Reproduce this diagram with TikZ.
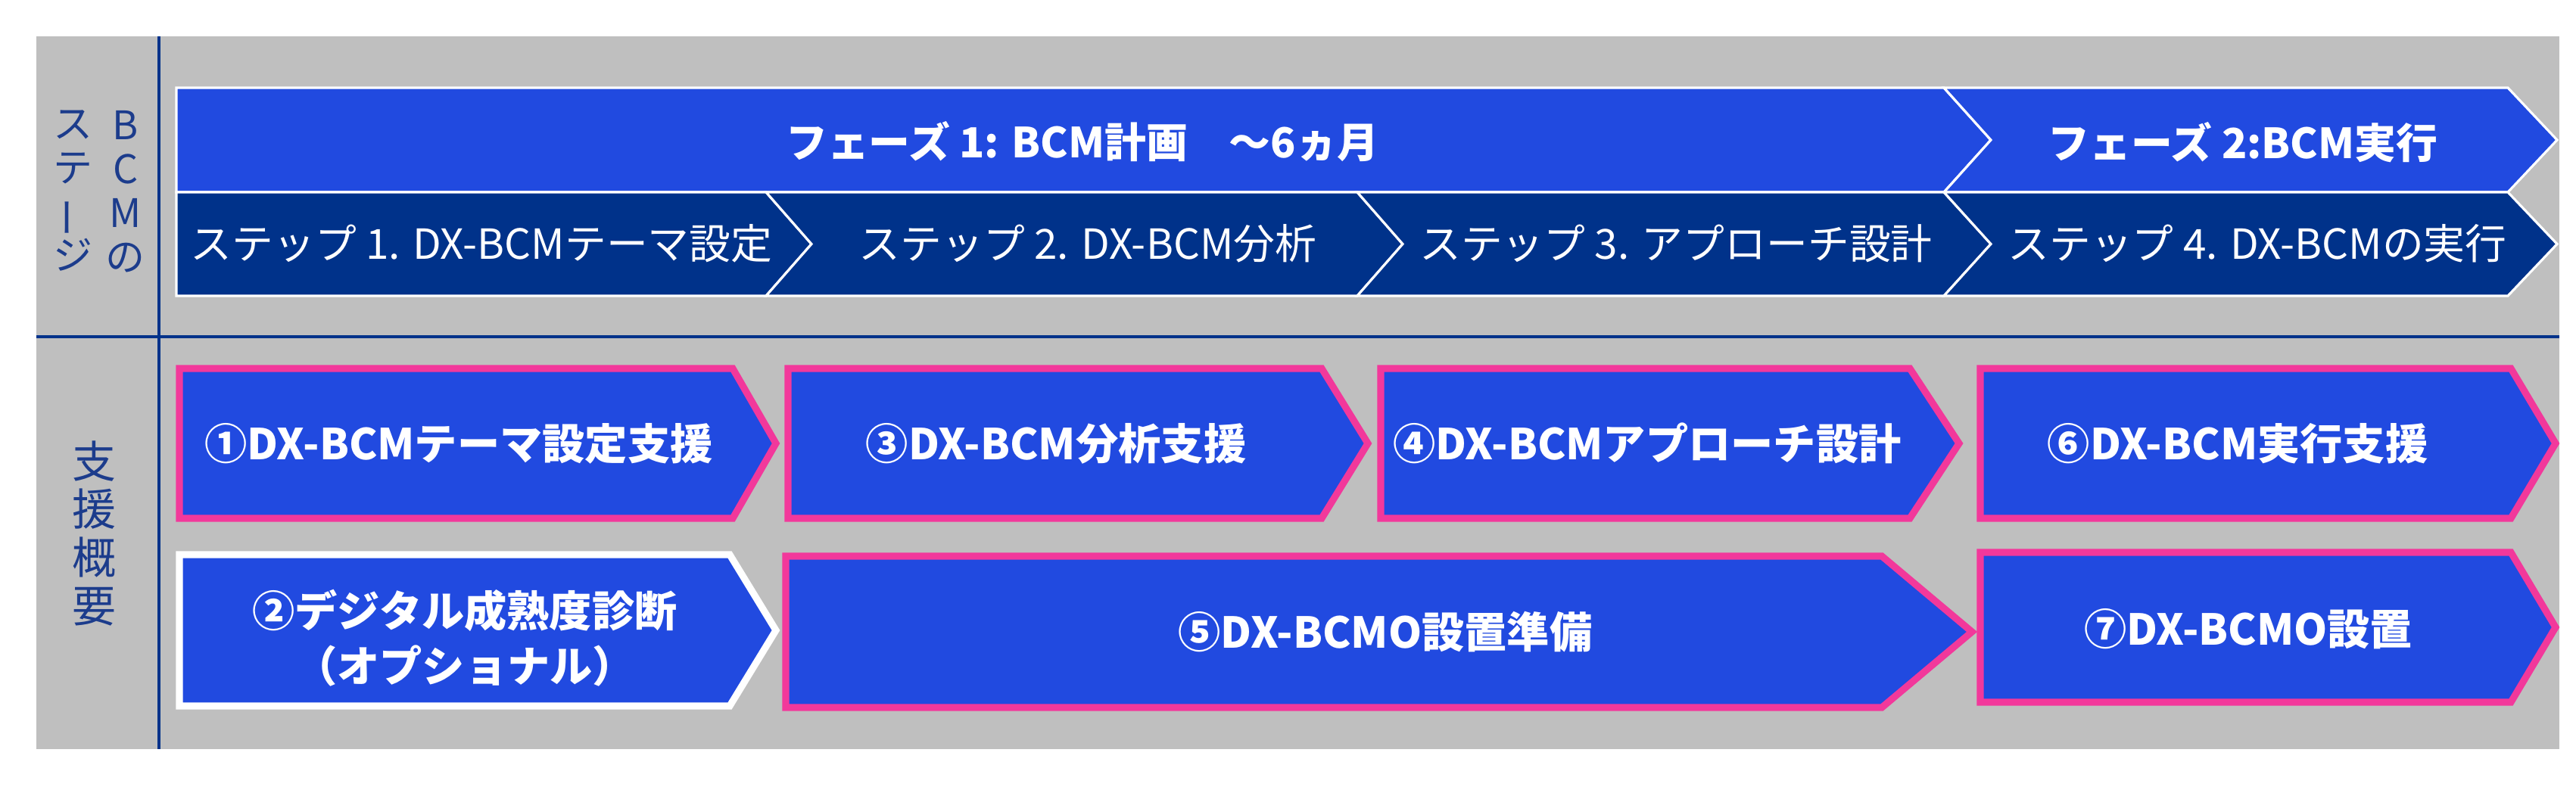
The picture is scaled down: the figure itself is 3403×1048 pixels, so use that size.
\documentclass[tikz,border=0pt]{standalone}
\usepackage{fontspec}
\setmainfont{Noto Sans CJK JP}
\definecolor{bcmgray}{RGB}{191,191,191}
\definecolor{bcmnavy}{RGB}{0,50,138}
\definecolor{bcmblue}{RGB}{33,74,224}
\definecolor{bcmpink}{RGB}{242,56,155}
\definecolor{bcmtext}{RGB}{28,60,140}

% arrow shaped band: style, left x, left notch x, right x, tip x, top y, bottom y
\newcommand{\chevronpath}[7]{%
  \draw[#1] (#2,#6) -- (#4,#6) -- (#5,{(#6+#7)/2}) -- (#4,#7) -- (#2,#7) -- (#3,{(#6+#7)/2}) -- cycle;}

\tikzset{
  divider/.style={draw=bcmnavy, line width=1.1pt},
  phasebox/.style={fill=bcmblue, draw=white, line width=0.9pt},
  stepbox/.style={fill=bcmnavy, draw=white, line width=0.9pt},
  supportbox/.style={fill=bcmblue, draw=bcmpink, line width=2.6pt},
  optionbox/.style={supportbox, draw=white},
  phaselabel/.style={text=white, font=\bfseries\fontsize{15.6pt}{18pt}\selectfont},
  steplabel/.style={text=white, font=\fontsize{15.6pt}{18pt}\selectfont},
  supportlabel/.style={text=white, align=center, font=\bfseries\fontsize{16pt}{20.8pt}\selectfont},
  sidelabel/.style={text=bcmtext, align=center, inner sep=0pt, font=\fontsize{14.8pt}{16.5pt}\selectfont}
}

\begin{document}
\begin{tikzpicture}[x=0.1mm,y=-0.1mm]
  \useasboundingbox (0,0) rectangle (3403,1048);
  % Background and grid
  \fill[white] (0,0) rectangle (3403,1048);
  \fill[bcmgray] (48,48) rectangle (3381,990);
  \draw[divider] (210,48) -- (210,990);
  \draw[divider] (48,445) -- (3381,445);

  % Side labels
  \node[sidelabel] (bcmcol) at (166,253) {B\\C\\M\\の};
  \node[sidelabel] (stagecol) at (97,252) {ス\\テ\\\rotatebox[origin=c]{90}{ー}\\ジ};
  \node[sidelabel, font=\fontsize{16.5pt}{18.2pt}\selectfont] (supportcol) at (124,705) {支\\援\\概\\要};

  % Phases
  \chevronpath{phasebox}{233}{233}{2568}{2630}{116}{254}
  \chevronpath{phasebox}{2568}{2630}{3313}{3378}{116}{254}
  \node[phaselabel] (phase1) at (1430,187) {フェーズ 1: BCM計画　～6ヵ月};
  \node[phaselabel] (phase2) at (2963,188) {フェーズ 2:BCM実行};

  % Steps
  \foreach \xl/\xn/\xr/\xt in {233/233/1012/1072, 1012/1072/1793/1853, 1793/1853/2568/2630, 2568/2630/3313/3378}
    {\chevronpath{stepbox}{\xl}{\xn}{\xr}{\xt}{254}{391}}
  \node[steplabel] (step1) at (636,322) {ステップ 1. DX-BCMテーマ設定};
  \node[steplabel] (step2) at (1437,322) {ステップ 2. DX-BCM分析};
  \node[steplabel] (step3) at (2214,322) {ステップ 3. アプローチ設計};
  \node[steplabel] (step4) at (2982,322) {ステップ 4. DX-BCMの実行};

  % Support, first row
  \chevronpath{supportbox}{237}{237}{968}{1025}{487}{685}
  \chevronpath{supportbox}{1041}{1041}{1746}{1807}{487}{685}
  \chevronpath{supportbox}{1824}{1824}{2523}{2588}{487}{685}
  \chevronpath{supportbox}{2616}{2616}{3317}{3376}{487}{685}
  \node[supportlabel] (sup1) at (606,586) {①DX-BCMテーマ設定支援};
  \node[supportlabel] (sup3) at (1395,586) {③DX-BCM分析支援};
  \node[supportlabel] (sup4) at (2176,586) {④DX-BCMアプローチ設計};
  \node[supportlabel] (sup6) at (2956,586) {⑥DX-BCM実行支援};

  % Support, second row
  \chevronpath{optionbox}{237}{237}{964}{1025}{733}{933}
  \chevronpath{supportbox}{1038}{1038}{2486}{2605}{735}{935}
  \chevronpath{supportbox}{2616}{2616}{3317}{3376}{730}{928}
  \node[supportlabel] (sup2) at (614,843) {②デジタル成熟度診断\\（オプショナル）};
  \node[supportlabel] (sup5) at (1830,835) {⑤DX-BCMO設置準備};
  \node[supportlabel] (sup7) at (2970,831) {⑦DX-BCMO設置};
\end{tikzpicture}
\end{document}
